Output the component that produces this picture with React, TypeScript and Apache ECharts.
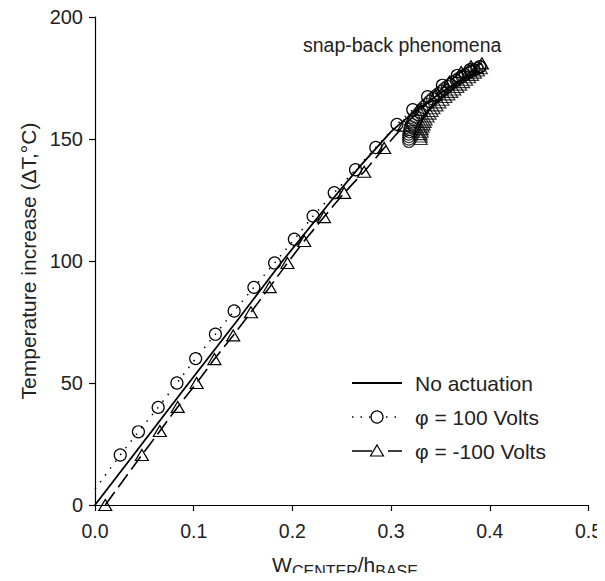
import React, { useEffect, useRef } from "react";
import * as echarts from "echarts";

// No actuation (solid line)
const noActX = [0, 0.038, 0.095, 0.143, 0.19, 0.24, 0.27, 0.3, 0.32, 0.34, 0.36, 0.38, 0.39];
const noActY = [0, 20, 50, 75, 100, 125, 139.5, 153, 160, 166, 171.5, 176, 178];

// phi = 100 Volts (dotted line with circles); first point is line start without marker
const posX = [0, 0.0256, 0.044, 0.064, 0.083, 0.102, 0.122, 0.141, 0.161, 0.182, 0.202, 0.221, 0.2424, 0.264, 0.2845, 0.306, 0.322, 0.337, 0.352, 0.367, 0.38, 0.39];
const posY = [6.5, 20.5, 30, 40, 50, 60, 70, 79.5, 89.2, 99.2, 108.9, 118.4, 128, 137.4, 146.5, 156, 162, 167.3, 172, 176, 178.4, 179.6];

// phi = -100 Volts (dashed line with triangles)
const negX = [0.0104, 0.0475, 0.0657, 0.0838, 0.103, 0.121, 0.14, 0.158, 0.177, 0.195, 0.212, 0.232, 0.2525, 0.2727, 0.293, 0.313, 0.33, 0.345, 0.359, 0.371, 0.381, 0.392];
const negY = [0, 20.5, 30.3, 40.2, 50, 59.8, 69.5, 79, 89.3, 99.2, 108.2, 118, 127.9, 136.6, 146.3, 155.5, 162, 168, 173.5, 177.5, 179.8, 181];

// snap-back branch, phi = 100 Volts (circles)
const snapPosX = [0.318, 0.318, 0.318, 0.318, 0.319, 0.319, 0.32, 0.321, 0.322, 0.323, 0.325, 0.327, 0.329, 0.331, 0.333, 0.336, 0.339, 0.342, 0.345, 0.348, 0.351, 0.354, 0.357, 0.36, 0.363, 0.366, 0.369, 0.372, 0.375, 0.378, 0.381, 0.384, 0.387, 0.39];
const snapPosY = [149, 150, 151, 152, 153, 154, 155, 156, 157, 158, 159, 160, 161, 162, 163, 164.2, 165.4, 166.5, 167.6, 168.6, 169.6, 170.6, 171.5, 172.4, 173.3, 174.1, 174.9, 175.6, 176.3, 177, 177.7, 178.3, 178.9, 179.5];

// snap-back branch, phi = -100 Volts (triangles)
const snapNegX = [0.33, 0.33, 0.33, 0.331, 0.331, 0.332, 0.333, 0.334, 0.335, 0.337, 0.339, 0.341, 0.343, 0.346, 0.349, 0.352, 0.355, 0.358, 0.361, 0.364, 0.367, 0.37, 0.373, 0.376, 0.379, 0.382, 0.385, 0.388, 0.391];
const snapNegY = [150, 151, 152, 153, 154, 155, 156, 157, 158, 159.2, 160.4, 161.5, 162.6, 163.8, 165, 166.1, 167.2, 168.3, 169.3, 170.3, 171.3, 172.3, 173.3, 174.3, 175.3, 176.3, 177.2, 178.1, 179];

const xTicks = [0, 0.1, 0.2, 0.3, 0.4, 0.5];
const yTicks = [0, 50, 100, 150, 200];
const legendNames = ["No actuation", "φ = 100 Volts", "φ = -100 Volts"];
// x-axis title pieces: [text, isSubscript]
const xTitleParts: [string, boolean][] = [["W", false], ["CENTER", true], ["/h", false], ["BASE", true]];

const FONT = "'Liberation Sans', Arial, Helvetica, sans-serif";
const INK = "#222";

const zip = (xs: number[], ys: number[]) => xs.map((x, i) => [x, ys[i]]);

function measure(text: string, size: number): number {
  const c = document.createElement("canvas").getContext("2d");
  if (!c) return text.length * size * 0.6;
  c.font = `${size}px ${FONT}`;
  return c.measureText(text).width;
}

export default function App() {
  const ref = useRef<HTMLDivElement>(null);
  useEffect(() => {
    if (!ref.current) return;
    const chart = echarts.init(ref.current, null, { renderer: "svg" });
    const hollow = { color: "rgba(255,255,255,0)", borderColor: "#000", borderWidth: 1.2 };

    const lx0 = 352;
    const lx1 = 402;
    const rows = [383, 417, 451];
    const legendGraphics: any[] = [
      { type: "line", shape: { x1: lx0, y1: rows[0], x2: lx1, y2: rows[0] }, style: { stroke: "#000", lineWidth: 1.8 } },
      { type: "line", shape: { x1: lx0, y1: rows[1], x2: lx1, y2: rows[1] }, style: { stroke: "#000", lineWidth: 1.5, lineDash: [1.5, 7] } },
      { type: "circle", shape: { cx: 377, cy: rows[1], r: 6 }, style: { fill: "#fff", stroke: "#000", lineWidth: 1.2 } },
      { type: "line", shape: { x1: lx0, y1: rows[2], x2: lx1, y2: rows[2] }, style: { stroke: "#000", lineWidth: 1.6, lineDash: [20, 16] } },
      { type: "polygon", shape: { points: [[377, rows[2] - 6], [383.5, rows[2] + 5], [370.5, rows[2] + 5]] }, style: { fill: "#fff", stroke: "#000", lineWidth: 1.2 } },
      ...legendNames.map((n, i) => ({
        type: "text",
        x: 415,
        y: rows[i],
        style: { text: n, fontSize: 21, fill: INK, fontFamily: FONT, verticalAlign: "middle", align: "left" },
      })),
    ];

    // x-axis title built from main text + subscripts
    const mainSize = 21;
    const subSize = 16;
    const widths = xTitleParts.map(([t, sub]) => measure(t, sub ? subSize : mainSize));
    const total = widths.reduce((a, b) => a + b, 0);
    let cx = 345 - total / 2;
    const xTitle: any[] = xTitleParts.map(([t, sub], i) => {
      const el = {
        type: "text",
        x: cx,
        y: sub ? 571.5 : 564.5,
        style: { text: t, fontSize: sub ? subSize : mainSize, fill: INK, fontFamily: FONT, align: "left", verticalAlign: "middle" },
      };
      cx += widths[i];
      return el;
    });

    chart.setOption({
      animation: false,
      textStyle: { fontFamily: FONT },
      grid: { left: 95, top: 17, right: 15, bottom: 76 },
      xAxis: {
        type: "value",
        min: xTicks[0],
        max: xTicks[xTicks.length - 1],
        interval: 0.1,
        splitLine: { show: false },
        axisLine: { lineStyle: { color: "#000", width: 1.2 } },
        axisTick: { length: 6, lineStyle: { color: "#000", width: 1.2 } },
        axisLabel: { color: INK, fontSize: 19.5, margin: 16, fontFamily: FONT, formatter: (v: number) => v.toFixed(1) },
      },
      yAxis: {
        type: "value",
        min: yTicks[0],
        max: yTicks[yTicks.length - 1],
        interval: 50,
        splitLine: { show: false },
        axisLine: { show: true, lineStyle: { color: "#000", width: 1.2 } },
        axisTick: { show: true, length: 6, lineStyle: { color: "#000", width: 1.2 } },
        axisLabel: { color: INK, fontSize: 20, margin: 12, fontFamily: FONT },
      },
      graphic: [
        {
          type: "text",
          left: 303,
          top: 35,
          style: { text: "snap-back phenomena", fontSize: 19.5, fill: INK, fontFamily: FONT },
        },
        {
          type: "text",
          x: 28,
          y: 261,
          rotation: Math.PI / 2,
          style: {
            text: "Temperature increase (ΔT,°C)",
            fontSize: 21,
            fill: INK,
            fontFamily: FONT,
            align: "center",
            verticalAlign: "middle",
          },
        },
        ...xTitle,
        ...legendGraphics,
      ],
      series: [
        {
          name: legendNames[0],
          type: "line",
          data: zip(noActX, noActY),
          showSymbol: false,
          symbol: "none",
          lineStyle: { color: "#000", width: 1.8, type: "solid" },
          z: 3,
        },
        {
          name: legendNames[1],
          type: "line",
          data: zip(posX, posY).map((p, i) => (i === 0 ? { value: p, symbol: "none" } : { value: p })),
          symbol: "circle",
          symbolSize: 12,
          showAllSymbol: true,
          lineStyle: { color: "#000", width: 1.5, type: [1.5, 7] },
          itemStyle: hollow,
          z: 2,
        },
        {
          name: legendNames[2],
          type: "line",
          data: zip(negX, negY),
          symbol: "triangle",
          symbolSize: [13, 11],
          showAllSymbol: true,
          lineStyle: { color: "#000", width: 1.6, type: [16, 6] },
          itemStyle: hollow,
          z: 2,
        },
        {
          name: "snapPos",
          type: "scatter",
          data: zip(snapPosX, snapPosY),
          symbol: "circle",
          symbolSize: 12,
          itemStyle: hollow,
          z: 2,
        },
        {
          name: "snapNeg",
          type: "scatter",
          data: zip(snapNegX, snapNegY),
          symbol: "triangle",
          symbolSize: [13, 11],
          itemStyle: hollow,
          z: 2,
        },
      ],
    });
    return () => chart.dispose();
  }, []);
  return <div ref={ref} style={{ width: 605, height: 581, margin: -8 }} />;
}
